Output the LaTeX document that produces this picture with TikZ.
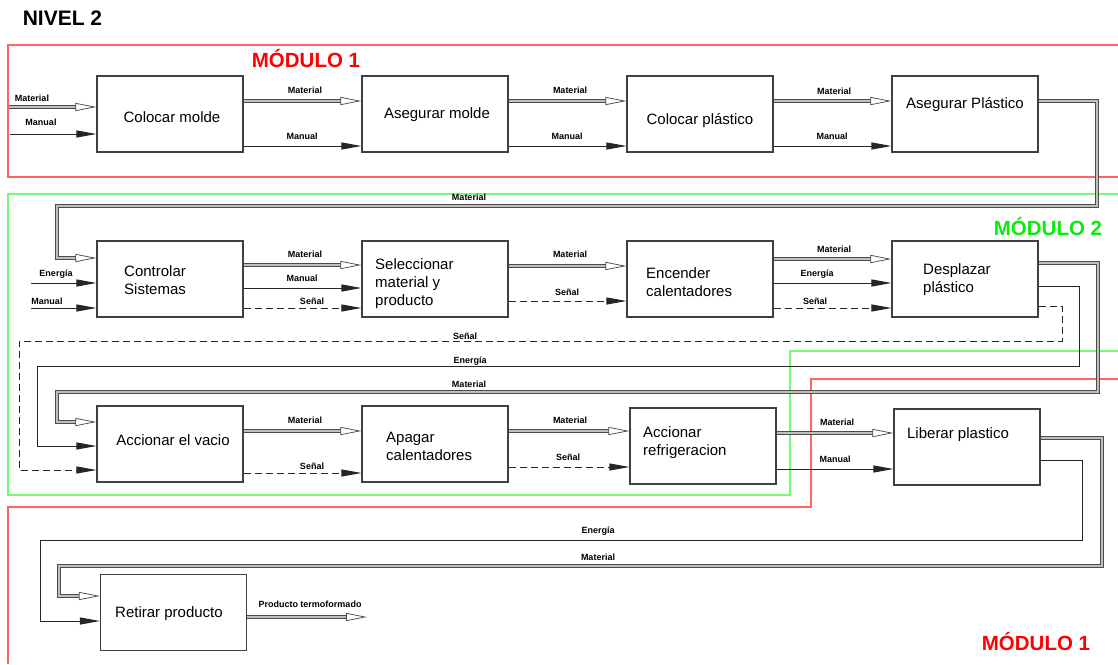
\documentclass[tikz,border=0pt]{standalone}
\usepackage{fontspec}
\setmainfont{Liberation Sans}
\usetikzlibrary{arrows.meta,positioning}
\definecolor{rojo}{RGB}{255,0,0}
\definecolor{rojomarco}{RGB}{255,100,100}
\definecolor{verde}{RGB}{10,235,10}
\definecolor{verdemarco}{RGB}{120,250,120}
\tikzset{
  caja/.style={draw=black!75,line width=1.1pt,minimum width=146pt,minimum height=76pt,inner sep=0pt},
  txt/.style={font=\fontsize{15}{18}\selectfont,inner sep=0pt,align=left},
  lbl/.style={font=\bfseries\fontsize{9}{10}\selectfont,inner sep=0pt},
  modulo/.style={font=\bfseries\fontsize{20.5}{24}\selectfont,inner sep=0pt,anchor=base},
  mat/.style={draw=black!70,line width=0.75pt,double=black!25,double distance=1.6pt,-{Triangle[open,length=21pt,width=8pt]}},
  man/.style={draw=black!85,line width=1pt,-{Triangle[length=20pt,width=7pt]}},
  sen/.style={man,dash pattern=on 7pt off 4pt},
}
\begin{document}
\begin{tikzpicture}[x=1pt,y=-1pt]
  \useasboundingbox (0,0) rectangle (1118,664);
  % marcos de modulos
  \draw[rojomarco,line width=1.2pt] (1118,45)--(8,45)--(8,177)--(1118,177);
  \draw[verdemarco,line width=1.2pt] (1118,194)--(8,194)--(8,495)--(790,495)--(790,351)--(1118,351);
  \draw[rojomarco,line width=1.2pt] (1118,379)--(811,379)--(811,507)--(8,507)--(8,664);
  \node[font=\bfseries\fontsize{21}{24}\selectfont,inner sep=0pt,anchor=base] (nivel) at (62.5,25){NIVEL 2};
  \node[modulo,rojo] (mod1) at (306,67){MÓDULO 1};
  \node[modulo,verde] (mod2) at (1048,235){MÓDULO 2};
  \node[modulo,rojo] (mod1b) at (1036,650){MÓDULO 1};

  % cajas
  \node[caja] (cm) at (170,114){};
  \node[caja] (am) at (435,114){};
  \node[caja] (cp) at (700,114){};
  \node[caja] (ap) at (965,114){};
  \node[caja] (cs) at (170,279){};
  \node[caja] (sm) at (435,279){};
  \node[caja] (ec) at (700,279){};
  \node[caja] (dp) at (965,279){};
  \node[caja] (av) at (170,444){};
  \node[caja] (ag) at (435,444){};
  \node[caja] (ar) at (703,446){};
  \node[caja] (lp) at (967,447){};
  \node[caja] (rp) at (173.5,612.5){};

  % textos de las cajas
  \node[txt,anchor=base] (tcm) at (172,122){Colocar molde};
  \node[txt,anchor=base] (tam) at (437,118){Asegurar molde};
  \node[txt,anchor=base] (tcp) at (700,124){Colocar plástico};
  \node[txt,anchor=base] (tap) at (965,108){Asegurar Plástico};
  \node[txt,anchor=north west] (tcs) at (124,265){Controlar\\Sistemas};
  \node[txt,anchor=north west] (tsm) at (375,258){Seleccionar\\material y\\producto};
  \node[txt,anchor=north west] (tec) at (646,267){Encender\\calentadores};
  \node[txt,anchor=north west] (tdp) at (923,263){Desplazar\\plástico};
  \node[txt,anchor=base] (tav) at (173,445){Accionar el vacio};
  \node[txt,anchor=north west] (tag) at (386,432){Apagar\\calentadores};
  \node[txt,anchor=north west] (tar) at (643,426){Accionar\\refrigeracion};
  \node[txt,anchor=base] (tlp) at (958,438){Liberar plastico};
  \node[txt,anchor=base] (trp) at (169,617){Retirar producto};

  % entradas externas
  \coordinate (e1) at (9,107);
  \coordinate (e2) at (10,134);
  \coordinate (e3) at (31,283);
  \coordinate (e4) at (31,308);
  \coordinate (sal) at (367,617);

  % fila 1
  \draw[mat] (e1) -- (cm.west |- e1);
  \draw[man] (e2) -- (cm.west |- e2);
  \draw[mat] (cm.east |- 0,101) -- (am.west |- 0,101);
  \draw[man] (cm.east |- 0,146) -- (am.west |- 0,146);
  \draw[mat] (am.east |- 0,101) -- (cp.west |- 0,101);
  \draw[man] (am.east |- 0,146) -- (cp.west |- 0,146);
  \draw[mat] (cp.east |- 0,101) -- (ap.west |- 0,101);
  \draw[man] (cp.east |- 0,146) -- (ap.west |- 0,146);
  \draw[mat] (ap.east |- 0,101) -| (1097,206) -| (57,258) -- (cs.west |- 0,258);
  \node[lbl] (l1) at (32,98){Material};
  \node[lbl] (l2) at (41,122){Manual};
  \node[lbl] (l3) at (305,90){Material};
  \node[lbl] (l4) at (302,136){Manual};
  \node[lbl] (l5) at (570,90){Material};
  \node[lbl] (l6) at (567,136){Manual};
  \node[lbl] (l7) at (834,91){Material};
  \node[lbl] (l8) at (832,136){Manual};
  \node[lbl] (l9) at (469,197){Material};

  % fila 2
  \draw[man] (e3) -- (cs.west |- e3);
  \draw[man] (e4) -- (cs.west |- e4);
  \draw[mat] (cs.east |- 0,265) -- (sm.west |- 0,265);
  \draw[man] (cs.east |- 0,288) -- (sm.west |- 0,288);
  \draw[sen] (cs.east |- 0,308) -- (sm.west |- 0,308);
  \draw[mat] (sm.east |- 0,266) -- (ec.west |- 0,266);
  \draw[sen] (sm.east |- 0,301) -- (ec.west |- 0,301);
  \draw[mat] (ec.east |- 0,259) -- (dp.west |- 0,259);
  \draw[man] (ec.east |- 0,283) -- (dp.west |- 0,283);
  \draw[sen] (ec.east |- 0,308) -- (dp.west |- 0,308);
  \draw[mat] (dp.east |- 0,263) -| (1098,392) -| (57,422) -- (av.west |- 0,422);
  \draw[man] (dp.east |- 0,286) -| (1079,366) -| (37,446) -- (av.west |- 0,446);
  \draw[sen] (dp.east |- 0,306) -| (1062,341) -| (19,470) -- (av.west |- 0,470);
  \node[lbl] (l10) at (56,274){Energía};
  \node[lbl] (l11) at (47,301){Manual};
  \node[lbl] (l12) at (305,254){Material};
  \node[lbl] (l13) at (302,278){Manual};
  \node[lbl] (l14) at (312,301){Señal};
  \node[lbl] (l15) at (570,254){Material};
  \node[lbl] (l16) at (567,292){Señal};
  \node[lbl] (l17) at (834,249){Material};
  \node[lbl] (l18) at (817,274){Energía};
  \node[lbl] (l19) at (815,301){Señal};
  \node[lbl] (l20) at (465,336){Señal};
  \node[lbl] (l21) at (470,361){Energía};
  \node[lbl] (l22) at (469,384){Material};

  % fila 3
  \draw[mat] (av.east |- 0,431) -- (ag.west |- 0,431);
  \draw[sen] (av.east |- 0,473) -- (ag.west |- 0,473);
  \draw[mat] (ag.east |- 0,431) -- (ar.west |- 0,431);
  \draw[sen] (ag.east |- 0,467) -- (ar.west |- 0,467);
  \draw[mat] (ar.east |- 0,433) -- (lp.west |- 0,433);
  \draw[man] (ar.east |- 0,469) -- (lp.west |- 0,469);
  \draw[mat] (lp.east |- 0,438) -| (1102,566) -| (59,596) -- (rp.west |- 0,596);
  \draw[man] (lp.east |- 0,460) -| (1082,540) -| (40,621) -- (rp.west |- 0,621);
  \node[lbl] (l23) at (305,420){Material};
  \node[lbl] (l24) at (312,466){Señal};
  \node[lbl] (l25) at (570,420){Material};
  \node[lbl] (l26) at (568,457){Señal};
  \node[lbl] (l27) at (837,422){Material};
  \node[lbl] (l28) at (835,459){Manual};

  % fila 4
  \draw[mat] (rp.east |- sal) -- (sal);
  \node[lbl] (l29) at (598,531){Energía};
  \node[lbl] (l30) at (598,557){Material};
  \node[lbl] (l31) at (310,604){Producto termoformado};
\end{tikzpicture}
\end{document}
